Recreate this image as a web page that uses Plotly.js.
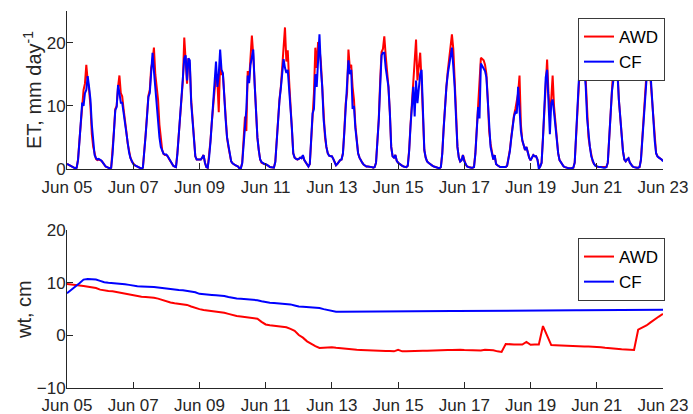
<!DOCTYPE html>
<html>
<head>
<meta charset="utf-8">
<script src="https://cdn.plot.ly/plotly-3.0.1.min.js"></script>
<style>
html,body{margin:0;padding:0;background:#fff;}
#chart{width:693px;height:414px;}
</style>
</head>
<body>
<div id="chart"></div>
<script>
// Hourly ET (mm day^-1), Jun 05 00:00 .. Jun 23 00:00, one row per day (24 values)
var etAWD = [
0.8,0.7,0.6,0.4,0.3,0.2,0.1,0.2,1.5,4.5,7.5,10,12.5,13.5,16.5,14,12.5,10,5.5,3.5,2.2,1.6,1.4,1.5,
1.4,1.3,1.0,0.7,0.4,0.3,0.2,0.1,0.2,2.5,6,9.5,10,13,14.8,12,11.5,9.5,8,6,4,2.8,1.8,1.2,
0.8,0.6,0.5,0.4,0.3,0.1,0.05,0.2,2.5,5.5,8.5,11.6,12.5,16,17,19.2,15,13,11,7,4.5,3,2.4,2.2,
2.2,2.0,1.6,1.2,0.8,0.5,0.4,0.3,2.5,5.5,8.5,11,14,20.8,17,13.5,17.5,16.5,11,8,4,2,1.5,1.5,
1.5,1.5,1.8,2.2,1.0,0.3,0.2,2,4.5,7.5,10,13,15,14,9,17.3,15,15,11,8,5,3.5,2,1.2,
0.9,0.7,0.6,0.5,0.4,0.1,0.1,1,4,8.3,6,15.5,14,17,21.1,18,13,9,5,3,1.5,1,0.9,0.8,
0.8,0.7,0.5,0.3,0.3,0.2,0.2,1.2,5,8.8,11,13,16,18,22.4,17,18.8,14,10,7,2.5,1.8,1.6,1.5,
1.6,1.8,1.7,2.1,1.4,1.0,0.7,0.4,0.8,5,9,12,19.2,16,20.1,19,17,13,8,5,3.5,2.5,2.1,2.0,
2.0,1.6,1.2,0.6,0.8,1.2,1.4,1.5,2.5,6,10.4,12,18.9,16,16.5,13,11,7,4.5,2.5,1.8,1.3,1.0,0.7,
0.5,0.4,0.4,0.4,0.3,0.3,0.2,0.3,1.0,4,8,14,18.5,19,21,18,15.5,13,9,3.5,2,1.8,2.2,1.3,
1.0,0.8,0.6,0.5,0.4,0.4,0.3,0.5,3,7,10,13,16,20.5,14,17,18.4,14,7.8,3,1.8,1.2,1.0,0.8,
0.7,0.5,0.4,0.3,0.2,0.1,0.1,0.3,2.5,6.5,10.4,13,15.5,17.5,20,21.3,19,15,9,3.5,1.8,1.2,1.4,2.2,
1.2,0.7,0.4,0.3,0.2,0.2,0.2,0.3,2.5,6,10,14,17.6,17.4,17.2,16.5,15,11,6,4,2.5,1.5,2.2,0.8,
0.6,0.4,0.3,0.3,0.3,0.3,0.3,0.5,1.5,3,5,7,8.5,9.5,11,12,14.8,7,4.5,3.5,3,3.5,2.5,1.8,
1.4,1.8,2.2,2.0,2.0,1.5,0.5,0.4,1.0,5,10,15,17.3,12,9,11,14.8,10,7,4.5,2.5,1.4,1.0,0.7,
0.4,0.3,0.2,0.2,0.1,0.1,0.1,0.2,1.0,5,11,15,18,21.3,19,20,14,8,5,3.5,2,1.2,0.8,0.5,
0.4,0.3,0.3,0.3,0.2,0.2,0.2,0.3,1,5,9,12.5,15,20,18,16,11,7.8,5,2.8,1.5,1.2,1.5,1.7,
1.0,0.6,0.4,0.3,0.2,0.2,0.2,0.3,1.5,5,9,12.5,15,17.5,16.5,14,11,7.8,4.5,2.5,2,1.8,1.7,1.5,
1.3];
var etCF = [
0.8,0.7,0.6,0.4,0.3,0.2,0.1,0.2,1.4,4.3,7.2,10.5,10,12,12.5,14.7,13,11,7,3.8,2.2,1.7,1.5,1.6,
1.5,1.3,1.0,0.7,0.4,0.3,0.2,0.1,0.2,2.3,5.8,9.3,9.8,13.3,12,10.5,10.5,9,7.5,5.8,3.8,2.6,1.7,1.1,
0.8,0.6,0.5,0.4,0.3,0.1,0.05,0.2,2.3,5.3,8.3,11.4,12,15.5,18.4,15.5,12.5,11,8,5,3.5,2.8,2.4,2.3,
2.3,2.0,1.6,1.2,0.8,0.5,0.4,0.3,2.3,5.3,8.3,10.8,13,17.5,18,14,17.5,17.2,10.5,7.5,3.8,2,1.5,1.5,
1.5,1.5,1.8,2.2,1.0,0.3,0.2,1.8,4.3,7.3,9.8,13,17,13,15,18.9,15.7,15.2,11,7.8,5,3.5,2,1.2,
0.9,0.7,0.6,0.5,0.4,0.1,0.1,0.9,3.8,7.8,9.5,14.8,13.6,16.5,17.5,18.9,13.5,9,5,3,1.5,1.1,0.9,0.8,
0.8,0.7,0.5,0.3,0.3,0.2,0.2,1.1,4.8,8.6,10.8,12.8,15,17.4,16,15.2,15.7,13,9.5,6.5,2.5,1.8,1.6,1.5,
1.6,1.8,1.7,2.2,1.4,1.0,0.7,0.4,0.8,4.8,8.8,9.5,15,13,18,21.3,16,13,7.8,5,3.5,2.5,2.1,2.0,
2.0,1.6,1.2,0.6,0.8,1.2,1.4,1.5,2.4,5.8,9.8,14,17.2,15,15.7,9.5,10,6.5,4.5,2.5,1.8,1.3,1.0,0.7,
0.5,0.4,0.4,0.4,0.3,0.3,0.2,0.3,1.0,3.8,7.8,13,18,18.4,18.4,16,14,13,9,3.5,2,1.8,2.2,1.3,
1.0,0.8,0.6,0.5,0.4,0.4,0.3,0.5,2.8,6.8,10,13,8.3,14,10.4,13,15,15.7,7.8,3,1.8,1.2,1.0,0.8,
0.7,0.5,0.4,0.3,0.2,0.1,0.1,0.3,2.4,6.3,10.2,13,15,16.7,17.5,19.2,16.2,13,8,3.5,1.8,1.2,1.4,2.2,
1.2,0.7,0.4,0.3,0.2,0.2,0.2,0.3,2.4,5.8,9.8,8,16.7,16.3,16,15.5,14.5,10.5,6,3.5,2.5,1.5,2.2,0.8,
0.6,0.4,0.3,0.3,0.3,0.3,0.3,0.5,1.4,2.8,4.8,6.8,8.3,9,8.8,13,8.3,6,4.6,3.5,3,3.5,2.5,1.8,
1.4,1.8,2.2,2.0,2.0,1.5,0.0,0.4,1.0,4.8,9.8,14.5,15.7,11,5.5,10.4,11,9,6.5,4.5,2.5,1.4,1.0,0.7,
0.4,0.3,0.2,0.2,0.1,0.1,0.1,0.2,1.0,4.8,10.5,14,16,17,17.7,16,13,8,5,3.5,2,1.2,0.8,0.5,
0.4,0.3,0.3,0.3,0.2,0.2,0.2,0.3,1,4.8,8.8,12.3,14,16.2,17,15,11,7.8,5,2.8,1.5,1.2,1.5,1.7,
1.0,0.6,0.4,0.3,0.2,0.2,0.2,0.3,1.4,4.8,8.8,12.3,14,15.7,15.5,15,11,7.8,4.5,2.5,2,1.8,1.7,1.5,
1.2];

// 3-hourly water table (cm), Jun 05 00:00 .. Jun 23 00:00, one row per day (8 values)
var wtAWD = [
9.75,9.7,9.6,9.5,9.4,9.3,9.2,9.0,
8.7,8.55,8.45,8.4,8.25,8.1,7.9,7.7,
7.55,7.45,7.35,7.3,7.25,7.15,7.0,6.7,
6.4,6.25,6.1,6.0,5.95,5.8,5.5,5.2,
5.0,4.85,4.75,4.65,4.55,4.45,4.3,4.1,
3.85,3.7,3.6,3.5,3.4,3.3,3.2,2.6,
2.1,1.95,1.85,1.8,1.7,1.55,1.25,0.9,
0.1,-0.4,-1.1,-1.6,-2.0,-2.35,-2.3,-2.2,
-2.2,-2.3,-2.4,-2.5,-2.6,-2.65,-2.7,-2.75,
-2.8,-2.8,-2.85,-2.9,-2.9,-2.95,-2.95,-3.0,
-2.7,-3.0,-3.0,-2.95,-2.95,-2.95,-2.9,-2.9,
-2.85,-2.85,-2.8,-2.8,-2.75,-2.75,-2.7,-2.7,
-2.75,-2.8,-2.85,-2.9,-2.85,-2.7,-2.75,-2.8,
-3.0,-3.1,-1.6,-1.7,-1.7,-1.7,-1.7,-1.2,
-1.75,-1.7,-1.7,1.8,0.0,-1.8,-1.85,-1.9,
-1.95,-2.0,-2.05,-2.1,-2.1,-2.1,-2.1,-2.1,
-2.15,-2.2,-2.3,-2.4,-2.5,-2.55,-2.6,-2.65,
-2.7,-2.75,1.1,1.5,1.9,2.5,3.1,3.6,
4.1];
var wtCF = [
8.0,8.6,9.3,9.9,10.6,10.7,10.65,10.6,
10.35,10.1,10.0,9.95,9.9,9.8,9.7,9.6,
9.45,9.35,9.3,9.3,9.25,9.2,9.1,9.0,
8.85,8.75,8.7,8.65,8.6,8.5,8.4,8.2,
7.9,7.8,7.75,7.7,7.65,7.6,7.5,7.3,
7.1,7.0,6.95,6.9,6.85,6.8,6.7,6.5,
6.3,6.2,6.15,6.1,6.05,6.0,5.9,5.7,
5.5,5.45,5.4,5.35,5.3,5.2,5.0,4.8,
4.6,4.5,4.5,4.5,4.5,4.5,4.5,4.5,
4.53,4.53,4.54,4.54,4.55,4.55,4.56,4.56,
4.57,4.57,4.58,4.58,4.59,4.59,4.6,4.6,
4.61,4.62,4.62,4.63,4.63,4.64,4.65,4.65,
4.66,4.66,4.67,4.67,4.68,4.68,4.69,4.69,
4.7,4.7,4.71,4.71,4.72,4.72,4.73,4.73,
4.74,4.74,4.75,4.75,4.76,4.76,4.77,4.77,
4.78,4.78,4.79,4.79,4.8,4.8,4.81,4.81,
4.82,4.82,4.83,4.83,4.84,4.84,4.85,4.85,
4.86,4.86,4.87,4.87,4.88,4.88,4.89,4.89,
4.9];

var seriesNames = ['AWD','CF'];
var seriesColors = ['#ff0000','#0000ff'];
var yTitles = ['ET, mm day<sup>-1</sup>', 'wt, cm'];
var startDay = Date.UTC(2020,5,5);

function timeGrid(n, stepHours){
  var out = [];
  var p = function(v){return (v<10?'0':'')+v;};
  for (var i=0;i<n;i++){
    var d = new Date(startDay + i*stepHours*3600000);
    out.push(d.getUTCFullYear()+'-'+p(d.getUTCMonth()+1)+'-'+p(d.getUTCDate())+' '+p(d.getUTCHours())+':00');
  }
  return out;
}
var tEt = timeGrid(etAWD.length, 1);
var tWt = timeGrid(wtAWD.length, 3);

var FONT = 'Liberation Sans, Arial, Helvetica, sans-serif';
var INK = '#262626';
var FS = 17;
var LW = 2;

var traces = [
  {x:tEt, y:etAWD, name:seriesNames[0], type:'scatter', mode:'lines', line:{color:seriesColors[0], width:LW}, xaxis:'x', yaxis:'y', legend:'legend'},
  {x:tEt, y:etCF, name:seriesNames[1], type:'scatter', mode:'lines', line:{color:seriesColors[1], width:LW}, xaxis:'x', yaxis:'y', legend:'legend'},
  {x:tWt, y:wtAWD, name:seriesNames[0], type:'scatter', mode:'lines', line:{color:seriesColors[0], width:LW}, xaxis:'x2', yaxis:'y2', legend:'legend2'},
  {x:tWt, y:wtCF, name:seriesNames[1], type:'scatter', mode:'lines', line:{color:seriesColors[1], width:LW}, xaxis:'x2', yaxis:'y2', legend:'legend2'}
];

function xAx(anchor, standoff){
  return {
    type:'date', domain:[67/693, 663/693], anchor:anchor,
    range:['2020-06-05 00:00','2020-06-23 00:00'],
    tick0:'2020-06-05', dtick:2*86400000, tickformat:'%b %d',
    showgrid:false, zeroline:false, showline:true, linecolor:INK, linewidth:1,
    ticks:'inside', ticklen:6, tickcolor:INK, tickwidth:1, ticklabelstandoff:standoff,
    tickfont:{family:FONT, size:FS, color:INK}
  };
}
function yAx(anchor, dom, rng, vals){
  return {
    domain:dom, anchor:anchor, range:rng, tickvals:vals,
    showgrid:false, zeroline:false, showline:true, linecolor:INK, linewidth:1,
    ticks:'inside', ticklen:6, tickcolor:INK, tickwidth:1, ticklabelstandoff:-3,
    tickfont:{family:FONT, size:FS, color:INK}
  };
}

var legendBase = {
  bgcolor:'#ffffff', bordercolor:'#3a3a3a', borderwidth:1,
  font:{family:FONT, size:FS, color:'#000'},
  xanchor:'left', yanchor:'top', tracegroupgap:0, itemwidth:30
};

var layout = {
  width:693, height:414,
  margin:{l:0, r:0, t:0, b:0, pad:0},
  paper_bgcolor:'#ffffff', plot_bgcolor:'#ffffff',
  showlegend:true,
  xaxis: xAx('y', 3),
  yaxis: yAx('x', [(414-169)/414, (414-11)/414], [0,25], [0,10,20]),
  xaxis2: xAx('y2', 1),
  yaxis2: yAx('x2', [(414-388.3)/414, (414-230)/414], [-10,20], [-10,0,10,20]),
  legend: Object.assign({}, legendBase, {x:578/693, y:(414-18)/414}),
  legend2: Object.assign({}, legendBase, {x:578/693, y:(414-238)/414}),
  annotations: [
    {text:yTitles[0], xref:'paper', yref:'paper', x:33/693, y:(414-90)/414, xanchor:'center', yanchor:'middle',
     textangle:-90, showarrow:false, font:{family:FONT, size:20, color:INK}},
    {text:yTitles[1], xref:'paper', yref:'paper', x:24/693, y:(414-310)/414, xanchor:'center', yanchor:'middle',
     textangle:-90, showarrow:false, font:{family:FONT, size:20, color:INK}}
  ]
};

Plotly.newPlot('chart', traces, layout, {displayModeBar:false, staticPlot:true});
</script>
</body>
</html>
